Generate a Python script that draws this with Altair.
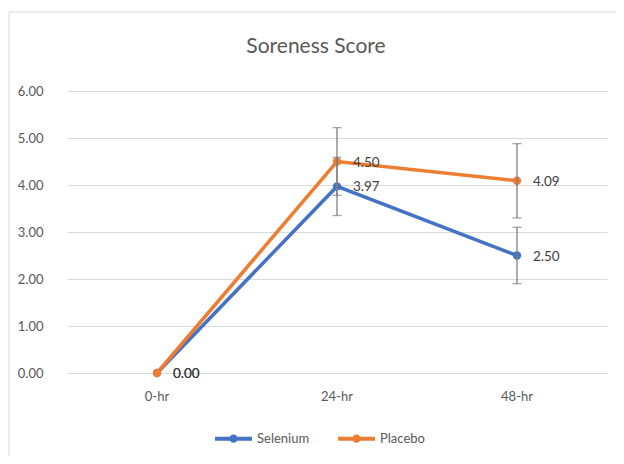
import altair as alt
import pandas as pd

times = ["0-hr", "24-hr", "48-hr"]
groups = ["Selenium", "Placebo"]
selenium = [0.00, 3.97, 2.50]
placebo = [0.00, 4.50, 4.09]
selenium_err = [0.0, 0.62, 0.60]
placebo_err = [0.0, 0.72, 0.79]
colors = ["#4472C4", "#ED7D31"]

rows = []
for g, vals, errs in [("Selenium", selenium, selenium_err), ("Placebo", placebo, placebo_err)]:
    for t, v, e in zip(times, vals, errs):
        rows.append({"time": t, "group": g, "value": v, "err": e,
                     "lo": v - e, "hi": v + e, "label": f"{v:.2f}"})
df = pd.DataFrame(rows)

FONT = "Lato"
GRAY = "#595959"

x = alt.X("time:N", sort=times, title=None,
          scale=alt.Scale(paddingInner=0, paddingOuter=0, align=0.5),
          axis=alt.Axis(labelAngle=0, domain=False, ticks=False, grid=False,
                        labelPadding=17, labelFontSize=13, labelColor=GRAY, labelFont=FONT))
y = alt.Y("value:Q", title=None,
          scale=alt.Scale(domain=[0, 6], nice=False),
          axis=alt.Axis(values=[0, 1, 2, 3, 4, 5, 6], format=".2f", domain=False, ticks=False,
                        gridColor="#d9d9d9", gridWidth=1, labelPadding=24,
                        labelFontSize=13, labelColor=GRAY, labelFont=FONT))
color = alt.Color("group:N", sort=groups, title=None,
                  scale=alt.Scale(domain=groups, range=colors),
                  legend=alt.Legend(orient="none", legendX=146, legendY=327, direction="horizontal",
                                    symbolType="M-1,0L1,0M-0.12,0a0.12,0.12 0 1,0 0.24,0a0.12,0.12 0 1,0 -0.24,0",
                                    symbolSize=1369, symbolStrokeWidth=4, symbolOffset=0,
                                    labelFontSize=13, labelColor=GRAY, labelFont=FONT,
                                    columnPadding=20, labelOffset=3))

base = alt.Chart(df)

frame_df = pd.DataFrame({"f": [0]})
border_top = alt.Chart(frame_df).mark_rule(stroke="#d9d9d9", strokeWidth=1).encode(
    x=alt.value(-58), x2=alt.value(560), y=alt.value(-79))
border_left = alt.Chart(frame_df).mark_rule(stroke="#d9d9d9", strokeWidth=1).encode(
    x=alt.value(-58), y=alt.value(-79), y2=alt.value(380))

lines = base.mark_line(strokeWidth=3.5).encode(x=x, y=y, color=color, order=alt.value(0))
points = base.mark_point(filled=True, size=70, opacity=1).encode(
    x=x, y=y, color=alt.Color("group:N", sort=groups, scale=alt.Scale(domain=groups, range=colors), legend=None))

eb = base.transform_filter(alt.datum.err > 0)
rules = eb.mark_rule(color="#7f7f7f", strokeWidth=1.3).encode(
    x=alt.X("time:N", sort=times), y="lo:Q", y2="hi:Q")
caps_hi = eb.mark_tick(color="#7f7f7f", thickness=1.3, size=9).encode(
    x=alt.X("time:N", sort=times), y="hi:Q")
caps_lo = eb.mark_tick(color="#7f7f7f", thickness=1.3, size=9).encode(
    x=alt.X("time:N", sort=times), y="lo:Q")

labels = base.mark_text(align="left", baseline="middle", dx=16, dy=1, fontSize=13.5,
                        color="#404040", font=FONT).encode(x=x, y=y, text="label:N")

chart = alt.layer(border_top, border_left, lines, points, rules, caps_hi, caps_lo, labels).properties(
    width=540, height=282,
    title=alt.TitleParams("Soreness Score", fontSize=21, font=FONT, color=GRAY,
                          fontWeight="normal", anchor="middle", dx=-21, offset=-45),
    autosize=alt.AutoSizeParams(type="none"),
    padding={"left": 59, "top": 83, "right": 9, "bottom": 83},
    background="transparent",
).configure_view(stroke=None).resolve_scale(color="shared")

chart.save("out.html", embed_options={"renderer": "svg", "actions": False})
